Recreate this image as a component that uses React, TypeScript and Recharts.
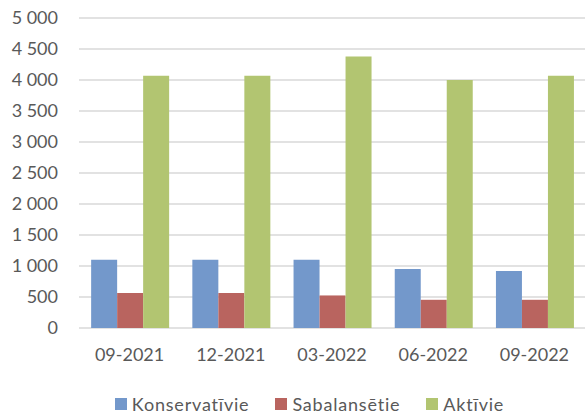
import { BarChart, Bar, XAxis, YAxis, CartesianGrid, Legend } from 'recharts';

const periods = ['09-2021', '12-2021', '03-2022', '06-2022', '09-2022'];
const konservativie = [1100, 1100, 1100, 950, 920];
const sabalansetie = [565, 565, 525, 455, 455];
const aktivie = [4070, 4070, 4380, 4000, 4070];
const yTicks = [0, 500, 1000, 1500, 2000, 2500, 3000, 3500, 4000, 4500, 5000];
const slotEdges = [0, 1, 2, 3, 4, 5];

const series = [
  { key: 'konservativie', name: 'Konservatīvie', color: '#7398cb' },
  { key: 'sabalansetie', name: 'Sabalansētie', color: '#b9645f' },
  { key: 'aktivie', name: 'Aktīvie', color: '#b2c571' },
];

const data = periods.map((period, i) => ({
  period,
  slot: i + 0.5,
  konservativie: konservativie[i],
  sabalansetie: sabalansetie[i],
  aktivie: aktivie[i],
}));

const FONT = 'Lato, "Noto Sans", sans-serif';
const TEXT = '#595959';

// thousands with a space, as in the original ("4 500")
const fmt = (v: number) => String(v).replace(/\B(?=(\d{3})+(?!\d))/g, ' ');

const renderLegend = () => (
  <div
    style={{
      display: 'flex',
      justifyContent: 'center',
      gap: 26,
      paddingTop: 15,
      paddingLeft: 34,
      fontFamily: FONT,
      fontSize: 18,
      letterSpacing: 0.8,
      color: TEXT,
    }}
  >
    {series.map((s) => (
      <span key={s.key} style={{ display: 'flex', alignItems: 'center' }}>
        <span style={{ width: 12, height: 12, background: s.color, marginRight: 5, display: 'inline-block' }} />
        {s.name}
      </span>
    ))}
  </div>
);

export default function App() {
  return (
    <div style={{ position: 'absolute', left: 0, top: 0, background: '#fff' }}>
      <BarChart
        width={586}
        height={414}
        data={data}
        margin={{ top: 18, right: 1, left: 0, bottom: 0 }}
        barCategoryGap="12%"
        barGap={0}
      >
        <CartesianGrid vertical={false} stroke="#d9d9d9" strokeWidth={1.3} />
        <XAxis
          xAxisId="edges"
          dataKey="slot"
          type="number"
          domain={[0, 5]}
          ticks={slotEdges}
          height={0}
          tick={false}
          tickSize={6}
          axisLine={{ stroke: '#d9d9d9', strokeWidth: 1.3 }}
          tickLine={{ stroke: '#d9d9d9', strokeWidth: 1.3 }}
        />
        <XAxis
          dataKey="period"
          height={50}
          axisLine={false}
          tickLine={false}
          tickSize={6}
          tickMargin={14}
          tick={{ fill: TEXT, fontSize: 18, fontFamily: FONT }}
        />
        <YAxis
          width={79}
          domain={[0, 5000]}
          ticks={yTicks}
          interval={0}
          axisLine={false}
          tickLine={false}
          tickSize={0}
          tickMargin={21}
          tickFormatter={fmt}
          tick={{ fill: TEXT, fontSize: 18, fontFamily: FONT }}
        />
        <Legend verticalAlign="bottom" height={36} content={renderLegend} />
        {series.map((s) => (
          <Bar key={s.key} dataKey={s.key} name={s.name} fill={s.color} isAnimationActive={false} />
        ))}
      </BarChart>
    </div>
  );
}
